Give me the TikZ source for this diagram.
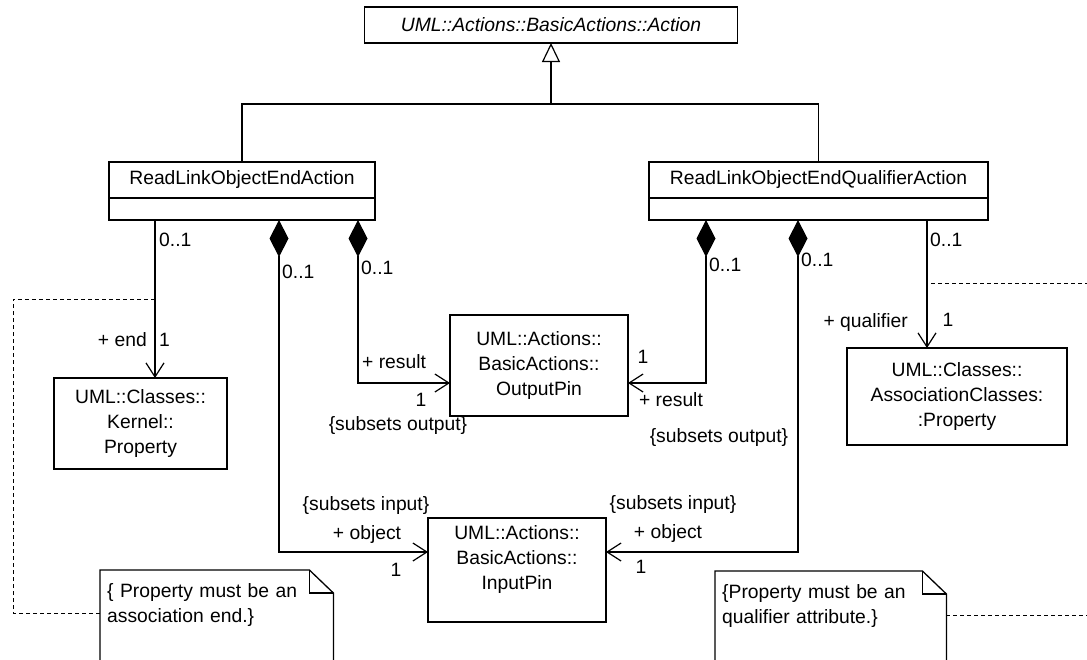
\documentclass[tikz,border=0pt]{standalone}
\usepackage{fontspec}
\setmainfont{Liberation Sans}
\usetikzlibrary{arrows.meta,positioning}

\tikzset{
  box/.style={draw,line width=1.3pt,align=center,inner sep=0pt,outer sep=0pt},
  link/.style={line width=1.2pt},
  assoc/.style={link,-{Straight Barb[length=14pt,width=18pt]}},
  comp/.style={link,{Diamond[length=37pt,width=19pt]}-{Straight Barb[length=14pt,width=18pt]}},
  gen/.style={link,-{Triangle[open,length=19pt,width=18pt,fill=white]}},
  noteline/.style={line width=1pt,dash pattern=on 4pt off 3pt},
  noteframe/.style={line width=1.3pt},
  note/.style={anchor=north west,align=left,inner xsep=7pt,inner ysep=13pt},
  lbl/.style={inner sep=0pt}
}

\begin{document}
\begin{tikzpicture}[x=1pt,y=-1pt,font=\fontsize{19.3}{25}\selectfont]
\useasboundingbox (0,0) rectangle (1087,659);
\clip (0,0) rectangle (1087,659);

% classes
\node[box,minimum width=373,minimum height=36,font=\fontsize{19.3}{25}\selectfont\itshape] (aAct) at (551,25) {UML::Actions::BasicActions::Action};
\node[box,minimum width=266,minimum height=36] (cL) at (242,180) {ReadLinkObjectEndAction};
\node[box,minimum width=266,minimum height=22,below=0pt of cL] (cLa) {};
\node[box,minimum width=339,minimum height=36] (cR) at (818.5,180) {ReadLinkObjectEndQualifierAction};
\node[box,minimum width=339,minimum height=22,below=0pt of cR] (cRa) {};

\node[box,minimum width=173,minimum height=91] (kP) at (140.5,423.5) {UML::Classes::\\Kernel::\\Property};
\node[box,minimum width=178,minimum height=101] (oP) at (539,365.5) {UML::Actions::\\BasicActions::\\OutputPin};
\node[box,minimum width=178,minimum height=104,text depth=25pt] (iP) at (517,570) {UML::Actions::\\BasicActions::\\InputPin};
\node[box,minimum width=220,minimum height=97] (aP) at (957,396.5) {UML::Classes::\\AssociationClasses:\\:Property};

% notes
\node[note,text width=219] (n1) at (100,570) {\{ Property must be an\\association end.\}\\~\\~};
\node[note,text width=217] (n2) at (715,571) {\{Property must be an\\qualifier attribute.\}\\~\\~};
\draw[noteframe] (n1.south west) -- (n1.north west) -- ([xshift=-24]n1.north east) -- ([yshift=-23]n1.north east) -- (n1.south east);
\draw[noteframe] ([xshift=-24]n1.north east) |- ([yshift=-23]n1.north east);
\draw[noteframe] (n2.south west) -- (n2.north west) -- ([xshift=-24]n2.north east) -- ([yshift=-23]n2.north east) -- (n2.south east);
\draw[noteframe] ([xshift=-24]n2.north east) |- ([yshift=-23]n2.north east);

% generalization
\coordinate (genJ) at (551,104);
\draw[link] (cL.north) |- (genJ) -| (cR.north);
\draw[gen] (genJ) -- (aAct.south);

% association ends
\coordinate (eL) at ([xshift=46]cLa.south west);
\coordinate (dL1) at ([xshift=170]cLa.south west);
\coordinate (dL2) at ([xshift=249]cLa.south west);
\coordinate (dR1) at ([xshift=57]cRa.south west);
\coordinate (dR2) at ([xshift=149]cRa.south west);
\coordinate (eR) at ([xshift=278]cRa.south west);

\draw[assoc] (eL) -- (eL |- kP.north);
\draw[comp] (dL1) |- ([yshift=18]iP.west);
\draw[comp] (dL2) |- ([yshift=-17.5]oP.west);
\draw[comp] (dR1) |- ([yshift=-17.5]oP.east);
\draw[comp] (dR2) |- ([yshift=18]iP.east);
\draw[assoc] (eR) -- (eR |- aP.north);

% note links
\coordinate (kneeL) at (13,299);
\coordinate (kneeR) at (1100,283);
\draw[noteline] ([yshift=-43]n1.north west) -| (kneeL) -- (kneeL -| eL);
\draw[noteline] ([yshift=-44]n2.north east) -| (kneeR) -- (kneeR -| eR);

% end labels, left
\node[lbl,anchor=west] (mL1) at (159,240) {0..1};
\node[lbl,anchor=east] (rEnd) at (147,340) {+ end};
\node[lbl,anchor=west] (mL2) at (159,340) {1};
\node[lbl,anchor=west] (mL3) at (282,272) {0..1};
\node[lbl,anchor=west] (mL4) at (361,268) {0..1};
\node[lbl,anchor=west] (rRes1) at (362,362) {+ result};
\node[lbl] (mL5) at (421,400) {1};
\node[lbl] (sOut1) at (398,426) {\{subsets output\}};
\node[lbl] (sIn1) at (366,506) {\{subsets input\}};
\node[lbl] (rObj1) at (367,535) {+ object};
\node[lbl] (mL6) at (396,570) {1};

% end labels, right
\node[lbl,anchor=west] (mR1) at (709,265) {0..1};
\node[lbl] (mR2) at (643,357) {1};
\node[lbl] (rRes2) at (671,400) {+ result};
\node[lbl,anchor=west] (mR3) at (801,260) {0..1};
\node[lbl] (sOut2) at (719,438) {\{subsets output\}};
\node[lbl] (sIn2) at (673,505) {\{subsets input\}};
\node[lbl] (rObj2) at (668,534) {+ object};
\node[lbl] (mR4) at (641,567) {1};
\node[lbl,anchor=west] (mR5) at (930,240) {0..1};
\node[lbl,anchor=east] (rQual) at (908,323) {+ qualifier};
\node[lbl] (mR6) at (948,320) {1};
\end{tikzpicture}
\end{document}
